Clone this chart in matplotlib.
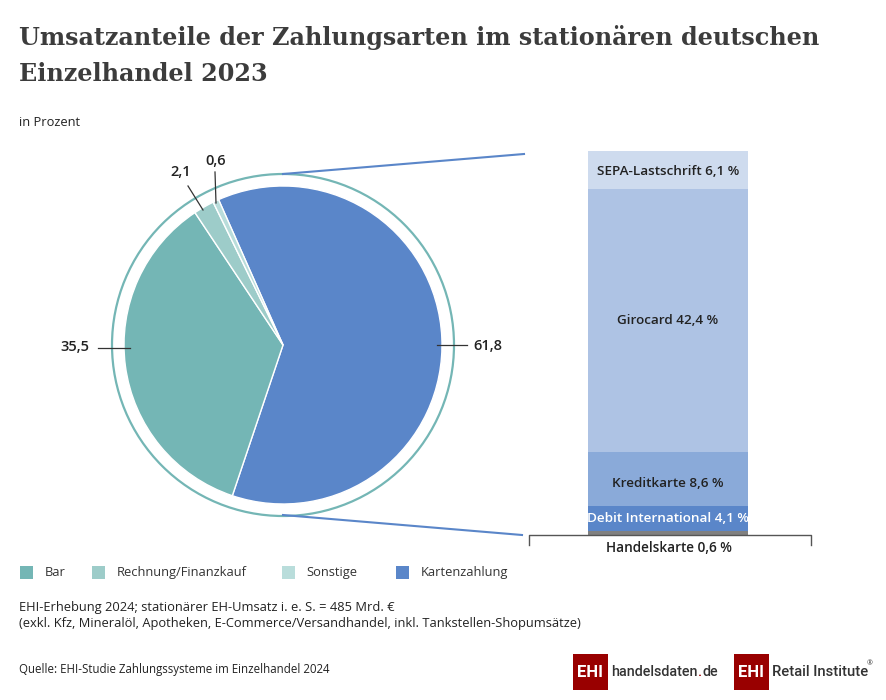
import matplotlib
matplotlib.use("Agg")
import matplotlib.pyplot as plt
from matplotlib.patches import Circle, Rectangle

W, H = 886, 700

# pie, clockwise starting at the blue wedge
pie_labels = ["Kartenzahlung", "Bar", "Rechnung/Finanzkauf", "Sonstige"]
pie_values = [61.8, 35.5, 2.1, 0.6]
pie_colors = ["#5A86C9", "#74B6B5", "#9DCCC9", "#B9DDDB"]

# stacked column, bottom to top
stack_labels = ["Handelskarte", "Debit International", "Kreditkarte", "Girocard", "SEPA-Lastschrift"]
stack_values = [0.6, 4.1, 8.6, 42.4, 6.1]
stack_colors = ["#808080", "#5A86C9", "#8AAAD9", "#AEC3E4", "#CEDBEE"]
stack_text = [None, "white", "#222222", "#222222", "#222222"]
label_shift = [0, 0, -4, 0, -2]  # px, labels do not sit quite centred

legend_swatch_x = [20, 92, 282, 396]
legend_order = ["Bar", "Rechnung/Finanzkauf", "Sonstige", "Kartenzahlung"]

SANS = "Open Sans"
DARK = "#222222"
TEAL = "#74B6B5"
BLUE = "#5A86C9"
RED = "#990000"
LOGO_GREY = "#333333"


def axes_px(fig, x0, y0, x1, y1):
    """Axes from pixel box, y counted from the top of the figure."""
    return fig.add_axes([x0 / W, 1 - y1 / H, (x1 - x0) / W, (y1 - y0) / H])


def logo(ax, x, parts, size):
    """Red EHI box followed by text pieces, each (string, colour)."""
    ax.add_patch(Rectangle((x, 654), 35, 35.5, color=RED, lw=0))
    ax.text(x + 17.5, 672.5, "EHI", color="white", fontsize=12, fontweight="bold",
            family="Roboto", ha="center", va="center")
    renderer = ax.figure.canvas.get_renderer()
    px = x + 38
    for s, col in parts:
        t = ax.text(px, 672.5, s, color=col, fontsize=size, family="Roboto",
                    fontweight="medium", ha="left", va="center")
        px += t.get_window_extent(renderer).width + 0.6
    return px


plt.rcParams["font.family"] = SANS
fig = plt.figure(figsize=(W / 100, H / 100), dpi=100)

# overlay in pixel coordinates for texts and leader lines
bg = fig.add_axes([0, 0, 1, 1])
bg.set_xlim(0, W)
bg.set_ylim(H, 0)
bg.axis("off")
bg.set_zorder(5)

# ---- pie ----
R = 159
pie_ax = axes_px(fig, 283 - 175, 345 - 175, 283 + 175, 345 + 175)
pie_ax.pie(pie_values, colors=pie_colors, startangle=113.9, counterclock=False,
           radius=R, wedgeprops={"edgecolor": "white", "linewidth": 1.0})
pie_ax.add_patch(Circle((0, 0), 171, fill=False, edgecolor=TEAL, lw=1.6))
pie_ax.set_xlim(-175, 175)
pie_ax.set_ylim(-175, 175)
pie_ax.set_aspect("equal")
pie_ax.axis("off")

# ---- stacked column ----
col_ax = axes_px(fig, 588, 151, 748, 535)
bottom = 0
for name, val, col, tc, dy in zip(stack_labels, stack_values, stack_colors, stack_text, label_shift):
    col_ax.bar(0, val, width=1, bottom=bottom, color=col, lw=0)
    if tc:
        col_ax.annotate(f"{name} {str(val).replace('.', ',')} %", (0, bottom + val / 2),
                        xytext=(0, dy * 0.72), textcoords="offset points", color=tc,
                        fontsize=9.7, fontweight="semibold", ha="center", va="center")
    bottom += val
col_ax.set_xlim(-0.5, 0.5)
col_ax.set_ylim(0, sum(stack_values))
col_ax.axis("off")

# connectors and bracket
bg.plot([283, 524], [174, 154], color=BLUE, lw=1.5)
bg.plot([283, 522], [515, 535], color=BLUE, lw=1.5)
bg.plot([529, 529, 811, 811], [545, 535, 535, 545], color="#555555", lw=1)
bg.text(669, 548, "Handelskarte 0,6 %", color=DARK, fontsize=9.8, fontweight="semibold",
        ha="center", va="center")

# pie labels with leaders
for xs, ys in [([98, 130], [348, 348]), ([437, 467], [345, 345]),
               ([188, 203], [186, 210]), ([215, 216], [172, 203])]:
    bg.plot(xs, ys, color="#333333", lw=0.9)
for x, y, s in [(75, 347, "35,5"), (488, 346, "61,8"), (181, 172, "2,1"), (216, 161, "0,6")]:
    bg.text(x, y, s, color=DARK, fontsize=10.5, fontweight="semibold", ha="center", va="center")

# ---- titles ----
bg.text(19, 38, "Umsatzanteile der Zahlungsarten im stationären deutschen", family="DejaVu Serif",
        fontsize=17.2, fontweight="bold", color="#3C3C3C", ha="left", va="center")
bg.text(19, 74, "Einzelhandel 2023", family="DejaVu Serif", fontsize=17.2, fontweight="bold",
        color="#3C3C3C", ha="left", va="center")
bg.text(19, 122, "in Prozent", color=DARK, fontsize=9.3, ha="left", va="center")

# ---- legend ----
for x, name in zip(legend_swatch_x, legend_order):
    col = pie_colors[pie_labels.index(name)]
    bg.add_patch(Rectangle((x, 566), 13, 13, color=col, lw=0))
    bg.text(x + 24.5, 572.5, name, color="#333333", fontsize=9.3, ha="left", va="center")

# ---- notes ----
bg.text(19, 608, "EHI-Erhebung 2024; stationärer EH-Umsatz i. e. S. = 485 Mrd. €",
        color=DARK, fontsize=9.3, ha="left", va="center")
bg.text(19, 624, "(exkl. Kfz, Mineralöl, Apotheken, E-Commerce/Versandhandel, inkl. Tankstellen-Shopumsätze)",
        color=DARK, fontsize=9.3, ha="left", va="center")
bg.text(19, 670, "Quelle: EHI-Studie Zahlungssysteme im Einzelhandel 2024",
        color=DARK, fontsize=8.3, ha="left", va="center")

# ---- logos ----
logo(bg, 573, [("handelsdaten", LOGO_GREY), (".", RED), ("de", LOGO_GREY)], 10.3)
logo(bg, 734, [("Retail Institute", LOGO_GREY)], 10.6)
bg.text(870, 664, "®", color=LOGO_GREY, fontsize=5, ha="center", va="center")

fig.savefig("out.png", dpi=100)
